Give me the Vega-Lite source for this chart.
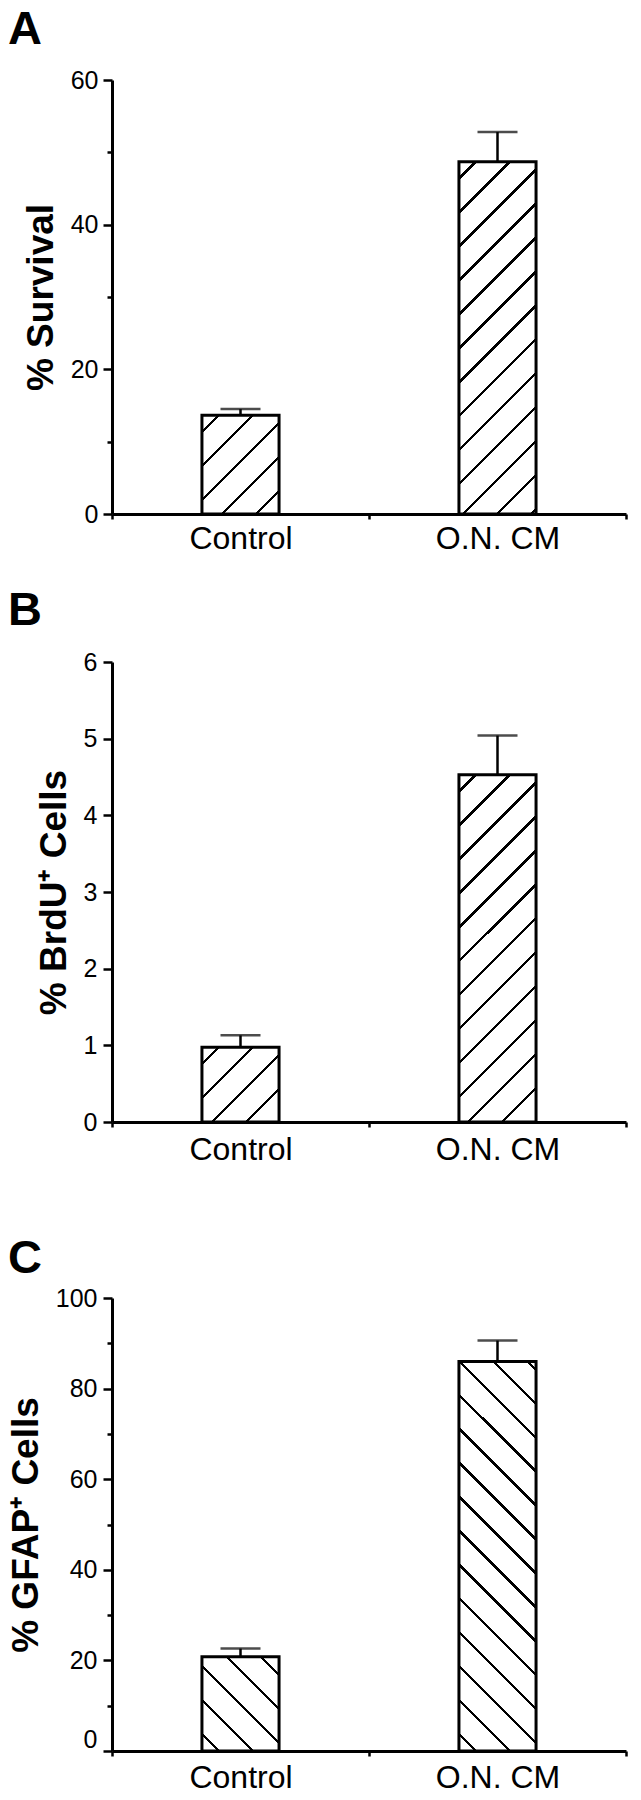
{
"$schema": "https://vega.github.io/schema/vega-lite/v6.json",
"padding": {"left": 7, "top": 6, "right": 5, "bottom": 5},
"spacing": 33,
"vconcat": [
{
"title": {"text": "A", "dx": -104, "offset": 14},
"width": 514, "height": 434,
"data": {"values": [{"group": "Control", "mean": 13.65, "upper": 14.5}, {"group": "O.N. CM", "mean": 48.7, "upper": 52.8}]},
"encoding": {"x": {"field": "group", "type": "nominal", "sort": null, "scale": {"paddingInner": 0, "paddingOuter": 0},
  "axis": {"title": null, "labelAngle": 0, "labelFontSize": 32, "labelPadding": 4, "tickBand": "extent", "tickSize": 5}}},
"layer": [
 {"mark": {"type": "bar", "width": {"band": 0.3}, "stroke": "black", "strokeWidth": 3},
  "encoding": {
   "y": {"field": "mean", "type": "quantitative", "scale": {"domain": [0, 60], "nice": false},
     "axis": {"title": "% Survival", "titleFontSize": 37, "titleFontWeight": "bold", "titlePadding": 10, "labelFontSize": 25, "labelPadding": 5,
      "values": [0,5,10,15,20,25,30,35,40,45,50,55,60],
      "labelExpr": "datum.value % 20 === 0 ? datum.label : ''",
      "tickSize": {"condition": {"test": "datum.value % 20 === 0", "value": 9}, "value": 5}}},
   "fill": {"condition": {"test": "datum.group === 'Control'", "value": {"gradient": "linear", "x1": 0, "y1": 0, "x2": 0.864, "y2": 1.106, "stops": [
     {"offset": 0, "color": "white"},
     {"offset": 0.0869, "color": "white"}, {"offset": 0.0869, "color": "black"}, {"offset": 0.1062, "color": "black"}, {"offset": 0.1062, "color": "white"},
     {"offset": 0.2800, "color": "white"}, {"offset": 0.2800, "color": "black"}, {"offset": 0.2994, "color": "black"}, {"offset": 0.2994, "color": "white"},
     {"offset": 0.4731, "color": "white"}, {"offset": 0.4731, "color": "black"}, {"offset": 0.4925, "color": "black"}, {"offset": 0.4925, "color": "white"},
     {"offset": 0.6662, "color": "white"}, {"offset": 0.6662, "color": "black"}, {"offset": 0.6856, "color": "black"}, {"offset": 0.6856, "color": "white"},
     {"offset": 0.8593, "color": "white"}, {"offset": 0.8593, "color": "black"}, {"offset": 0.8787, "color": "black"}, {"offset": 0.8787, "color": "white"},
     {"offset": 1, "color": "white"}]}},
    "value": {"gradient": "linear", "x1": 0, "y1": 0, "x2": 0.2546, "y2": 1.1632, "stops": [
     {"offset": 0, "color": "white"},
     {"offset": 0.0355, "color": "white"}, {"offset": 0.0355, "color": "black"}, {"offset": 0.0435, "color": "black"}, {"offset": 0.0435, "color": "white"},
     {"offset": 0.1146, "color": "white"}, {"offset": 0.1146, "color": "black"}, {"offset": 0.1226, "color": "black"}, {"offset": 0.1226, "color": "white"},
     {"offset": 0.1936, "color": "white"}, {"offset": 0.1936, "color": "black"}, {"offset": 0.2016, "color": "black"}, {"offset": 0.2016, "color": "white"},
     {"offset": 0.2727, "color": "white"}, {"offset": 0.2727, "color": "black"}, {"offset": 0.2807, "color": "black"}, {"offset": 0.2807, "color": "white"},
     {"offset": 0.3517, "color": "white"}, {"offset": 0.3517, "color": "black"}, {"offset": 0.3597, "color": "black"}, {"offset": 0.3597, "color": "white"},
     {"offset": 0.4308, "color": "white"}, {"offset": 0.4308, "color": "black"}, {"offset": 0.4388, "color": "black"}, {"offset": 0.4388, "color": "white"},
     {"offset": 0.5098, "color": "white"}, {"offset": 0.5098, "color": "black"}, {"offset": 0.5178, "color": "black"}, {"offset": 0.5178, "color": "white"},
     {"offset": 0.5889, "color": "white"}, {"offset": 0.5889, "color": "black"}, {"offset": 0.5969, "color": "black"}, {"offset": 0.5969, "color": "white"},
     {"offset": 0.6679, "color": "white"}, {"offset": 0.6679, "color": "black"}, {"offset": 0.6759, "color": "black"}, {"offset": 0.6759, "color": "white"},
     {"offset": 0.7470, "color": "white"}, {"offset": 0.7470, "color": "black"}, {"offset": 0.7550, "color": "black"}, {"offset": 0.7550, "color": "white"},
     {"offset": 0.8260, "color": "white"}, {"offset": 0.8260, "color": "black"}, {"offset": 0.8340, "color": "black"}, {"offset": 0.8340, "color": "white"},
     {"offset": 0.9051, "color": "white"}, {"offset": 0.9051, "color": "black"}, {"offset": 0.9131, "color": "black"}, {"offset": 0.9131, "color": "white"},
     {"offset": 0.9841, "color": "white"}, {"offset": 0.9841, "color": "black"}, {"offset": 0.9921, "color": "black"}, {"offset": 0.9921, "color": "white"},
     {"offset": 1, "color": "white"}]}}}},
 {"mark": {"type": "rule", "color": "black", "strokeWidth": 2.5},
  "encoding": {"y": {"field": "mean", "type": "quantitative"}, "y2": {"field": "upper"}}},
 {"mark": {"type": "tick", "color": "black", "size": 40, "thickness": 2.5},
  "encoding": {"y": {"field": "upper", "type": "quantitative"}}}
]
},
{
"spacing": 70,
"vconcat": [
{
"title": {"text": "B", "dx": -104, "offset": 15},
"width": 514, "height": 460,
"data": {"values": [{"group": "Control", "mean": 0.975, "upper": 1.13}, {"group": "O.N. CM", "mean": 4.53, "upper": 5.04}]},
"encoding": {"x": {"field": "group", "type": "nominal", "sort": null, "scale": {"paddingInner": 0, "paddingOuter": 0},
  "axis": {"title": null, "labelAngle": 0, "labelFontSize": 32, "labelPadding": 7, "tickBand": "extent", "tickSize": 5}}},
"layer": [
 {"mark": {"type": "bar", "width": {"band": 0.3}, "stroke": "black", "strokeWidth": 3},
  "encoding": {
   "y": {"field": "mean", "type": "quantitative", "scale": {"domain": [0, 6], "nice": false},
     "axis": {"title": "% BrdU⁺ Cells", "titleFontSize": 37, "titleFontWeight": "bold", "titlePadding": 10, "labelFontSize": 25, "labelPadding": 6,
      "values": [0,0.5,1,1.5,2,2.5,3,3.5,4,4.5,5,5.5,6],
      "labelExpr": "datum.value % 1 === 0 ? format(datum.value, 'd') : ''",
      "tickSize": {"condition": {"test": "datum.value % 1 === 0", "value": 9}, "value": 5}}},
   "fill": {"condition": {"test": "datum.group === 'Control'", "value": {"gradient": "linear", "x1": 0, "y1": 0, "x2": 1.015, "y2": 0.9847, "stops": [
     {"offset": 0, "color": "white"},
     {"offset": 0.1005, "color": "white"}, {"offset": 0.1005, "color": "black"}, {"offset": 0.1229, "color": "black"}, {"offset": 0.1229, "color": "white"},
     {"offset": 0.3240, "color": "white"}, {"offset": 0.3240, "color": "black"}, {"offset": 0.3464, "color": "black"}, {"offset": 0.3464, "color": "white"},
     {"offset": 0.5475, "color": "white"}, {"offset": 0.5475, "color": "black"}, {"offset": 0.5699, "color": "black"}, {"offset": 0.5699, "color": "white"},
     {"offset": 0.7709, "color": "white"}, {"offset": 0.7709, "color": "black"}, {"offset": 0.7933, "color": "black"}, {"offset": 0.7933, "color": "white"},
     {"offset": 1, "color": "white"}]}},
    "value": {"gradient": "linear", "x1": 0, "y1": 0, "x2": 0.2585, "y2": 1.1646, "stops": [
     {"offset": 0, "color": "white"},
     {"offset": 0.0360, "color": "white"}, {"offset": 0.0360, "color": "black"}, {"offset": 0.0440, "color": "black"}, {"offset": 0.0440, "color": "white"},
     {"offset": 0.1160, "color": "white"}, {"offset": 0.1160, "color": "black"}, {"offset": 0.1240, "color": "black"}, {"offset": 0.1240, "color": "white"},
     {"offset": 0.1959, "color": "white"}, {"offset": 0.1959, "color": "black"}, {"offset": 0.2039, "color": "black"}, {"offset": 0.2039, "color": "white"},
     {"offset": 0.2759, "color": "white"}, {"offset": 0.2759, "color": "black"}, {"offset": 0.2839, "color": "black"}, {"offset": 0.2839, "color": "white"},
     {"offset": 0.3559, "color": "white"}, {"offset": 0.3559, "color": "black"}, {"offset": 0.3639, "color": "black"}, {"offset": 0.3639, "color": "white"},
     {"offset": 0.4358, "color": "white"}, {"offset": 0.4358, "color": "black"}, {"offset": 0.4438, "color": "black"}, {"offset": 0.4438, "color": "white"},
     {"offset": 0.5158, "color": "white"}, {"offset": 0.5158, "color": "black"}, {"offset": 0.5238, "color": "black"}, {"offset": 0.5238, "color": "white"},
     {"offset": 0.5958, "color": "white"}, {"offset": 0.5958, "color": "black"}, {"offset": 0.6038, "color": "black"}, {"offset": 0.6038, "color": "white"},
     {"offset": 0.6758, "color": "white"}, {"offset": 0.6758, "color": "black"}, {"offset": 0.6838, "color": "black"}, {"offset": 0.6838, "color": "white"},
     {"offset": 0.7557, "color": "white"}, {"offset": 0.7557, "color": "black"}, {"offset": 0.7637, "color": "black"}, {"offset": 0.7637, "color": "white"},
     {"offset": 0.8357, "color": "white"}, {"offset": 0.8357, "color": "black"}, {"offset": 0.8437, "color": "black"}, {"offset": 0.8437, "color": "white"},
     {"offset": 0.9157, "color": "white"}, {"offset": 0.9157, "color": "black"}, {"offset": 0.9237, "color": "black"}, {"offset": 0.9237, "color": "white"},
     {"offset": 1, "color": "white"}]}}}},
 {"mark": {"type": "rule", "color": "black", "strokeWidth": 2.5},
  "encoding": {"y": {"field": "mean", "type": "quantitative"}, "y2": {"field": "upper"}}},
 {"mark": {"type": "tick", "color": "black", "size": 40, "thickness": 2.5},
  "encoding": {"y": {"field": "upper", "type": "quantitative"}}}
]
},
{
"title": {"text": "C", "dx": -104, "offset": 3},
"width": 514, "height": 453,
"data": {"values": [{"group": "Control", "mean": 20.8, "upper": 22.6}, {"group": "O.N. CM", "mean": 86.0, "upper": 90.6}]},
"encoding": {"x": {"field": "group", "type": "nominal", "sort": null, "scale": {"paddingInner": 0, "paddingOuter": 0},
  "axis": {"title": null, "labelAngle": 0, "labelFontSize": 32, "labelPadding": 6, "tickBand": "extent", "tickSize": 5}}},
"layer": [
 {"mark": {"type": "bar", "width": {"band": 0.3}, "stroke": "black", "strokeWidth": 3},
  "encoding": {
   "y": {"field": "mean", "type": "quantitative", "scale": {"domain": [0, 100], "nice": false},
     "axis": {"title": "% GFAP⁺ Cells", "titleFontSize": 37, "titleFontWeight": "bold", "titlePadding": 10, "labelFontSize": 25, "labelPadding": 6,
      "values": [0,10,20,30,40,50,60,70,80,90,100],
      "labelExpr": "datum.value % 20 === 0 ? datum.label : ''",
      "labelOffset": {"condition": {"test": "datum.value === 0", "value": -12}, "value": 0},
      "tickSize": {"condition": {"test": "datum.value % 20 === 0", "value": 9}, "value": 5}}},
   "fill": {"condition": {"test": "datum.group === 'Control'", "value": {"gradient": "linear", "x1": 0, "y1": 1, "x2": 0.8913, "y2": -0.089, "stops": [
     {"offset": 0, "color": "white"},
     {"offset": 0.0892, "color": "white"}, {"offset": 0.0892, "color": "black"}, {"offset": 0.1090, "color": "black"}, {"offset": 0.1090, "color": "white"},
     {"offset": 0.2874, "color": "white"}, {"offset": 0.2874, "color": "black"}, {"offset": 0.3072, "color": "black"}, {"offset": 0.3072, "color": "white"},
     {"offset": 0.4856, "color": "white"}, {"offset": 0.4856, "color": "black"}, {"offset": 0.5054, "color": "black"}, {"offset": 0.5054, "color": "white"},
     {"offset": 0.6838, "color": "white"}, {"offset": 0.6838, "color": "black"}, {"offset": 0.7036, "color": "black"}, {"offset": 0.7036, "color": "white"},
     {"offset": 0.8820, "color": "white"}, {"offset": 0.8820, "color": "black"}, {"offset": 0.9018, "color": "black"}, {"offset": 0.9018, "color": "white"},
     {"offset": 1, "color": "white"}]}},
    "value": {"gradient": "linear", "x1": 0, "y1": 1, "x2": 0.2281, "y2": -0.1528, "stops": [
     {"offset": 0, "color": "white"},
     {"offset": 0.0328, "color": "white"}, {"offset": 0.0328, "color": "black"}, {"offset": 0.0400, "color": "black"}, {"offset": 0.0400, "color": "white"},
     {"offset": 0.1055, "color": "white"}, {"offset": 0.1055, "color": "black"}, {"offset": 0.1127, "color": "black"}, {"offset": 0.1127, "color": "white"},
     {"offset": 0.1782, "color": "white"}, {"offset": 0.1782, "color": "black"}, {"offset": 0.1854, "color": "black"}, {"offset": 0.1854, "color": "white"},
     {"offset": 0.2509, "color": "white"}, {"offset": 0.2509, "color": "black"}, {"offset": 0.2581, "color": "black"}, {"offset": 0.2581, "color": "white"},
     {"offset": 0.3237, "color": "white"}, {"offset": 0.3237, "color": "black"}, {"offset": 0.3309, "color": "black"}, {"offset": 0.3309, "color": "white"},
     {"offset": 0.3964, "color": "white"}, {"offset": 0.3964, "color": "black"}, {"offset": 0.4036, "color": "black"}, {"offset": 0.4036, "color": "white"},
     {"offset": 0.4691, "color": "white"}, {"offset": 0.4691, "color": "black"}, {"offset": 0.4763, "color": "black"}, {"offset": 0.4763, "color": "white"},
     {"offset": 0.5419, "color": "white"}, {"offset": 0.5419, "color": "black"}, {"offset": 0.5491, "color": "black"}, {"offset": 0.5491, "color": "white"},
     {"offset": 0.6146, "color": "white"}, {"offset": 0.6146, "color": "black"}, {"offset": 0.6218, "color": "black"}, {"offset": 0.6218, "color": "white"},
     {"offset": 0.6873, "color": "white"}, {"offset": 0.6873, "color": "black"}, {"offset": 0.6945, "color": "black"}, {"offset": 0.6945, "color": "white"},
     {"offset": 0.7600, "color": "white"}, {"offset": 0.7600, "color": "black"}, {"offset": 0.7672, "color": "black"}, {"offset": 0.7672, "color": "white"},
     {"offset": 0.8328, "color": "white"}, {"offset": 0.8328, "color": "black"}, {"offset": 0.8400, "color": "black"}, {"offset": 0.8400, "color": "white"},
     {"offset": 0.9055, "color": "white"}, {"offset": 0.9055, "color": "black"}, {"offset": 0.9127, "color": "black"}, {"offset": 0.9127, "color": "white"},
     {"offset": 0.9782, "color": "white"}, {"offset": 0.9782, "color": "black"}, {"offset": 0.9854, "color": "black"}, {"offset": 0.9854, "color": "white"},
     {"offset": 1, "color": "white"}]}}}},
 {"mark": {"type": "rule", "color": "black", "strokeWidth": 2.5},
  "encoding": {"y": {"field": "mean", "type": "quantitative"}, "y2": {"field": "upper"}}},
 {"mark": {"type": "tick", "color": "black", "size": 40, "thickness": 2.5},
  "encoding": {"y": {"field": "upper", "type": "quantitative"}}}
]
}
]
}
],
"config": {
 "view": {"stroke": null},
 "font": "Liberation Sans",
 "axis": {"domainColor": "black", "domainWidth": 3, "tickColor": "black", "tickWidth": 2.5, "labelColor": "black", "titleColor": "black", "grid": false, "labelFont": "Liberation Sans", "titleFont": "Liberation Sans"},
 "title": {"color": "black", "font": "Liberation Sans", "fontWeight": "bold", "fontSize": 47, "anchor": "start", "frame": "group", "baseline": "bottom"}
}
}
